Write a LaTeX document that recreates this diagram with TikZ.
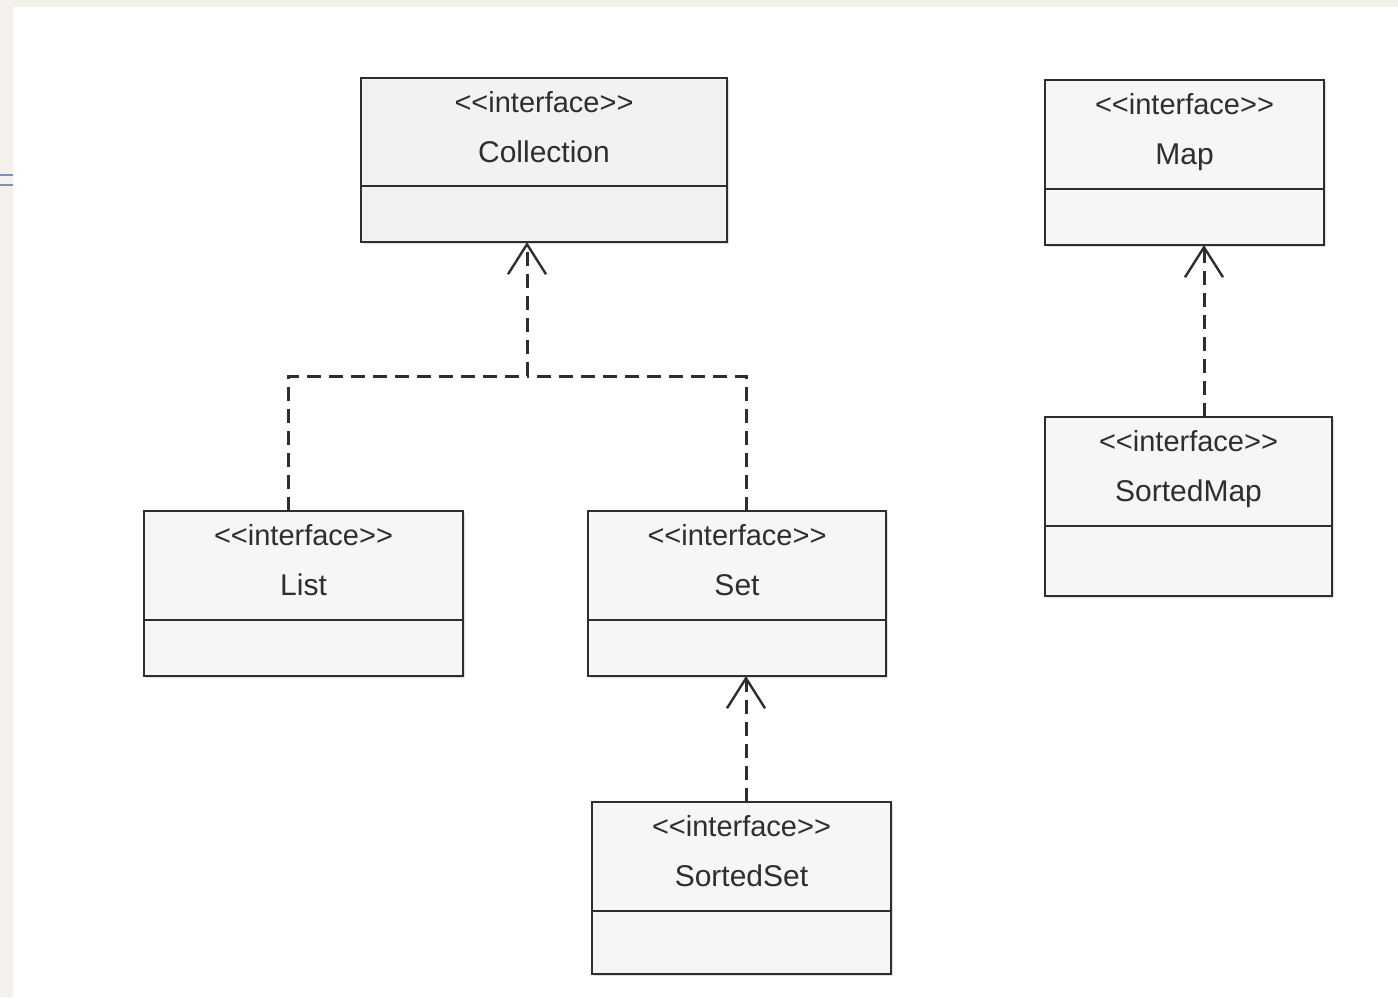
\documentclass[tikz,border=0pt]{standalone}
\usepackage{fontspec}
\setmainfont{Liberation Sans}
\usetikzlibrary{arrows.meta,shadows}
\definecolor{beige}{HTML}{F4F1EC}
\definecolor{ink}{HTML}{2E2E2E}
\definecolor{boxfill}{HTML}{F6F6F6}
\definecolor{boxfillB}{HTML}{F2F2F2}
\definecolor{linkblue}{HTML}{7393C4}
\tikzset{
  cls/.style={draw=ink, line width=2.7pt, fill=boxfill, inner sep=0pt, outer sep=0pt,
    drop shadow={shadow xshift=2pt, shadow yshift=-2pt, opacity=0.25}},
  divider/.style={draw=ink, line width=2.7pt},
  stereo/.style={anchor=base, text=ink, font=\fontsize{29}{32}\selectfont, inner sep=0pt},
  cname/.style={anchor=base, text=ink, font=\fontsize{30}{34}\selectfont, inner sep=0pt},
  dep/.style={draw=ink, line width=3pt, dash pattern=on 14pt off 8pt},
  realize/.style={dep, -{Straight Barb[length=30pt,width=38pt,line width=2.4pt]}}
}
\newcommand{\umlbox}[8][boxfill]{%
  \node[cls, fill=#1, minimum width={(#5-#3)*1pt}, minimum height={(#6-#4)*1pt}]
    (#2) at ({(#3+#5)/2},{(#4+#6)/2}) {};
  \draw[divider] (#3,#7) -- (#5,#7);
  \node[stereo] (#2-st) at ({(#3+#5)/2},{#4+34}) {{<}{<}interface{>}{>}};
  \node[cname] (#2-nm) at ({(#3+#5)/2},{#4+84}) {#8};
}
\begin{document}
\begin{tikzpicture}[x=1pt,y=-1pt]
  \useasboundingbox (0,0) rectangle (1398,997);
  \fill[beige] (0,0) rectangle (1398,997);
  \fill[white] (13,7) rectangle (1398,997);
  \draw[linkblue, line width=1.6pt] (0,175) -- (13,175) (0,185) -- (13,185);

  \umlbox[boxfillB]{coll}{361}{78}{727}{242}{186}{Collection}
  \umlbox{map}{1045}{80}{1324}{245}{189}{Map}
  \umlbox{list}{144}{511}{463}{676}{620}{List}
  \umlbox{set}{588}{511}{886}{676}{620}{Set}
  \umlbox{smap}{1045}{417}{1332}{596}{526}{SortedMap}
  \umlbox{sset}{592}{802}{891}{974}{911}{SortedSet}

  \coordinate (jC) at (527,376);
  \coordinate (jL) at (288,376);
  \coordinate (jR) at (746,376);
  \coordinate (jM) at (1204,300);

  \draw[dep] (list.north -| jL) -- (jL) -- (jC);
  \draw[dep] (set.north -| jR) -- (jR) -- (jC);
  \draw[realize] (jC) -- (coll.south -| jC);
  \draw[realize] (smap.north -| jM) -- (map.south -| jM);
  \draw[realize] (sset.north -| jR) -- (set.south -| jR);
\end{tikzpicture}
\end{document}
